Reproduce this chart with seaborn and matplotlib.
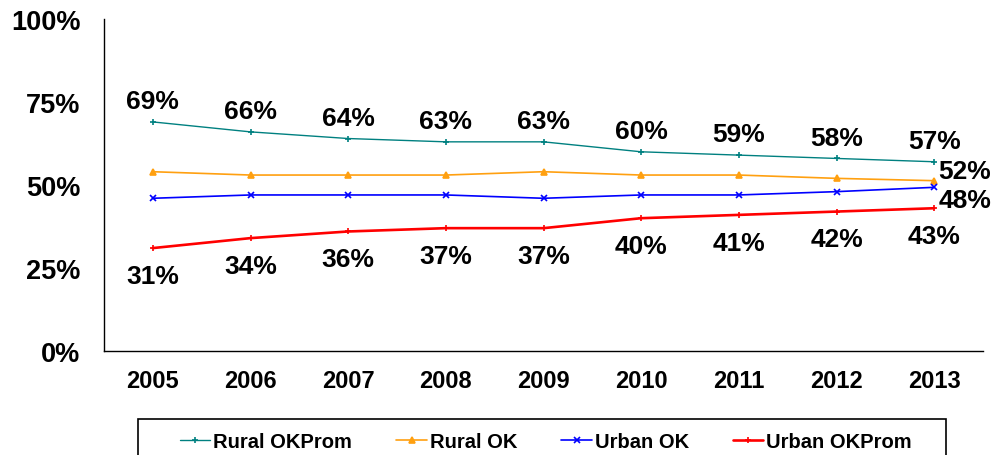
import matplotlib
matplotlib.use("Agg")
import matplotlib.pyplot as plt
import seaborn as sns
import pandas as pd
from matplotlib.patches import Rectangle
from matplotlib.ticker import FixedLocator, PercentFormatter

years = ["2005", "2006", "2007", "2008", "2009", "2010", "2011", "2012", "2013"]
rural_okprom = [69, 66, 64, 63, 63, 60, 59, 58, 57]
rural_ok = [54, 53, 53, 53, 54, 53, 53, 52, 51.3]
urban_ok = [46, 47, 47, 47, 46, 47, 47, 48, 49.3]
urban_okprom = [31, 34, 36, 37, 37, 40, 41, 42, 43]
end_labels = {"Rural OK": "52%", "Urban OK": "48%"}
series_names = ["Rural OKProm", "Rural OK", "Urban OK", "Urban OKProm"]
series_values = [rural_okprom, rural_ok, urban_ok, urban_okprom]

colors = {"Rural OKProm": "#008080", "Rural OK": "#FFA010",
          "Urban OK": "#0000FF", "Urban OKProm": "#FF0000"}
markers = {"Rural OKProm": "+", "Rural OK": "^", "Urban OK": "x", "Urban OKProm": "+"}
msizes = {"Rural OKProm": 5, "Rural OK": 5, "Urban OK": 4.5, "Urban OKProm": 5}
lwidths = {"Rural OKProm": 1.0, "Rural OK": 1.2, "Urban OK": 1.2, "Urban OKProm": 1.9}

sns.set_theme(style="white")
plt.rcParams["font.family"] = ["Liberation Sans", "DejaVu Sans"]
plt.rcParams["font.weight"] = "bold"
for k in ["text.color", "xtick.color", "ytick.color", "axes.labelcolor", "axes.edgecolor"]:
    plt.rcParams[k] = "black"

rows = []
for name, vals in zip(series_names, series_values):
    for i, (y, v) in enumerate(zip(years, vals)):
        rows.append({"pos": i, "year": y, "series": name, "value": v})
df = pd.DataFrame(rows)

fig = plt.figure(figsize=(9.96, 4.56), dpi=100)
ax = fig.add_axes([104 / 996, 1 - 352 / 456, 879 / 996, 332 / 456])

for name in series_names:
    sub = df[df["series"] == name]
    sns.lineplot(data=sub, x="pos", y="value", ax=ax, color=colors[name],
                 marker=markers[name], markersize=msizes[name],
                 markeredgewidth=1.2, markeredgecolor=colors[name],
                 linewidth=lwidths[name], label=name)

ax.set_xlim(-0.5, len(years) - 0.5)
ax.set_ylim(0, 100)
ax.set_xlabel("")
ax.set_ylabel("")
ax.set_xticks(range(len(years)))
ax.set_xticklabels(years, fontsize=17, fontweight="bold", color="black")
ax.xaxis.set_minor_locator(FixedLocator([i - 0.5 for i in range(len(years) + 1)]))
ax.tick_params(axis="x", which="major", length=0, pad=13)
ax.tick_params(axis="x", which="minor", length=5, width=1, color="black", direction="out")
ax.set_yticks([0, 25, 50, 75, 100])
ax.yaxis.set_major_formatter(PercentFormatter(decimals=0))
ax.tick_params(axis="y", which="major", length=5, width=1, color="black",
               direction="out", pad=12, labelsize=19.5, labelcolor="black")
for lab in ax.get_yticklabels():
    lab.set_fontweight("bold")
for s in ["top", "right"]:
    ax.spines[s].set_visible(False)
for s in ["left", "bottom"]:
    ax.spines[s].set_color("black")
    ax.spines[s].set_linewidth(1)
ax.grid(False)

# data labels
LFS = 19
for i, v in enumerate(rural_okprom):
    ax.annotate(f"{v:.0f}%", (i, v), xytext=(0, 15), textcoords="offset points",
                ha="center", va="center", fontsize=LFS, fontweight="bold", color="black")
for i, v in enumerate(urban_okprom):
    ax.annotate(f"{v:.0f}%", (i, v), xytext=(0, -20), textcoords="offset points",
                ha="center", va="center", fontsize=LFS, fontweight="bold", color="black")
last = len(years) - 1
ax.annotate(end_labels["Rural OK"], (last, rural_ok[last]), xytext=(22, 7),
            textcoords="offset points", ha="center", va="center",
            fontsize=LFS, fontweight="bold", color="black")
ax.annotate(end_labels["Urban OK"], (last, urban_ok[last]), xytext=(22, -9),
            textcoords="offset points", ha="center", va="center",
            fontsize=LFS, fontweight="bold", color="black")

# legend
handles, labels = ax.get_legend_handles_labels()
if ax.legend_:
    ax.legend_.remove()
leg = fig.legend(handles, labels, loc="center", bbox_to_anchor=(546 / 996, 1 - 443 / 456),
                 ncol=4, frameon=False, fontsize=14.5, handlelength=1.5,
                 handletextpad=0.15, columnspacing=2.2, borderaxespad=0)
for t in leg.get_texts():
    t.set_fontweight("bold")
    t.set_color("black")
fig.patches.append(Rectangle((138 / 996, -0.05), 808 / 996, (456 - 420) / 456 + 0.05,
                             transform=fig.transFigure, fill=False, ec="black", lw=1.2))

fig.savefig("out.png", dpi=100)
